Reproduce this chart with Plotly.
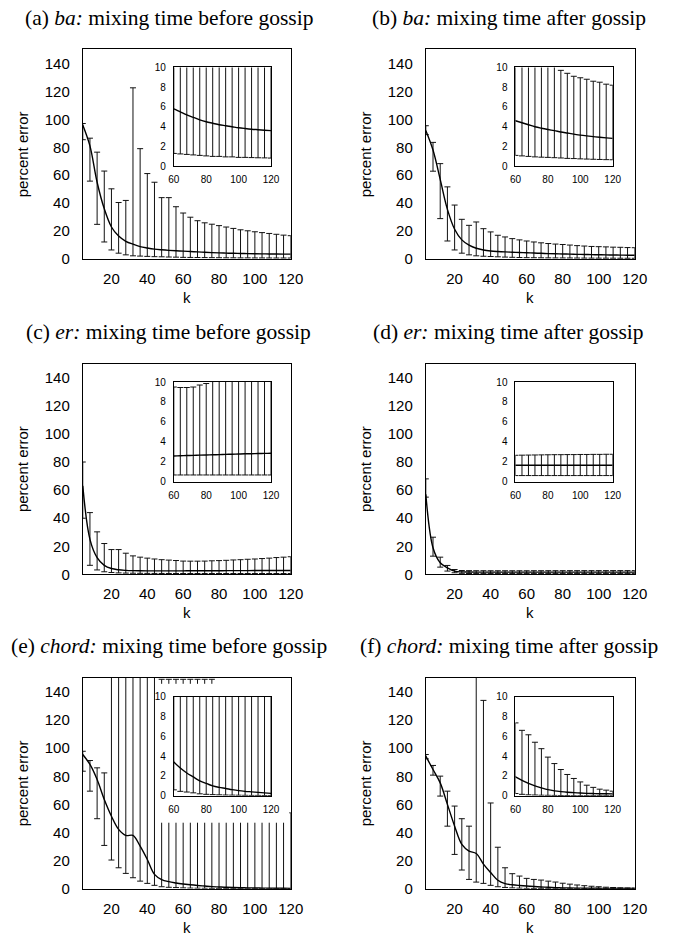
import plotly.graph_objects as go

# ---------------- data ----------------
k = [4, 8, 12, 16, 20, 24, 28, 32, 36, 40, 44, 48, 52, 56, 60,
     64, 68, 72, 76, 80, 84, 88, 92, 96, 100, 104, 108, 112, 116, 120]

x_ticks_main = [20, 40, 60, 80, 100, 120]
y_ticks_main = [0, 20, 40, 60, 80, 100, 120, 140]
x_ticks_inset = [60, 80, 100, 120]
y_ticks_inset = [0, 2, 4, 6, 8, 10]

titles = [
    "(a) <i>ba:</i> mixing time before gossip",
    "(b) <i>ba:</i> mixing time after gossip",
    "(c) <i>er:</i> mixing time before gossip",
    "(d) <i>er:</i> mixing time after gossip",
    "(e) <i>chord:</i> mixing time before gossip",
    "(f) <i>chord:</i> mixing time after gossip",
]

# (a) ba, before gossip
mean_a = [96, 81, 55, 36, 23, 16.5, 12.8, 10.7, 9.0, 8.0, 7.2, 6.7, 6.3, 6.0, 5.8,
          5.5, 5.2, 4.95, 4.7, 4.5, 4.35, 4.2, 4.1, 4.0, 3.9, 3.82, 3.75, 3.7, 3.65, 3.6]
upper_a = [97, 86.5, 76.5, 63, 50.3, 40.5, 42, 122.5, 79, 61.2, 55, 44, 44, 37.5, 33,
           30, 27.5, 26, 25, 24, 23, 22, 21, 20.3, 19.6, 19, 18.4, 17.8, 17.2, 16.8]
lower_a = [85.4, 55.8, 24.9, 12.3, 6.6, 4.3, 3.1, 2.4, 2.2, 2.0, 1.8, 1.7, 1.55, 1.45, 1.3,
           1.25, 1.2, 1.15, 1.1, 1.05, 1.0, 1.0, 0.95, 0.95, 0.9, 0.9, 0.88, 0.86, 0.85, 0.83]

# (b) ba, after gossip
mean_b = [92, 78, 57, 35.6, 21.4, 13.8, 10, 7.8, 6.6, 5.9, 5.5, 5.2, 5.0, 4.8, 4.6,
          4.4, 4.2, 4.0, 3.85, 3.72, 3.6, 3.47, 3.36, 3.25, 3.15, 3.07, 3.0, 2.93, 2.87, 2.82]
upper_b = [95.4, 83.5, 68.3, 51.7, 38.7, 28.5, 24.2, 26.6, 21.8, 19.5, 17.1, 15.9, 14.7, 13.8, 13.0,
           12.3, 11.7, 11.2, 10.8, 10.5, 10.1, 9.7, 9.4, 9.1, 8.95, 8.8, 8.6, 8.5, 8.3, 8.2]
lower_b = [89, 62.9, 29, 13, 6.6, 4.3, 3.1, 2.4, 2.1, 1.9, 1.7, 1.5, 1.35, 1.2, 1.1,
           1.05, 1.0, 0.95, 0.92, 0.9, 0.87, 0.84, 0.8, 0.78, 0.75, 0.73, 0.71, 0.69, 0.67, 0.66]

# (c) er, before gossip
mean_c = [63, 25, 12, 6.5, 4.2, 3.3, 2.9, 2.7, 2.6, 2.55, 2.55, 2.55, 2.55, 2.55, 2.57,
          2.59, 2.61, 2.63, 2.65, 2.67, 2.69, 2.71, 2.73, 2.75, 2.77, 2.79, 2.8, 2.82, 2.83, 2.85]
upper_c = [80, 44, 30.3, 22, 17.7, 17.7, 15.1, 13.2, 12.3, 11.6, 11.0, 10.5, 10.2, 9.9, 9.5,
           9.45, 9.45, 9.5, 9.7, 9.85, 10.05, 10.3, 10.5, 10.8, 11.0, 11.3, 11.6, 12.0, 12.3, 12.6]
lower_c = [40, 6.5, 3.2, 1.9, 1.4, 1.1, 0.95, 0.85, 0.8, 0.75, 0.72, 0.7, 0.68, 0.67, 0.66,
           0.66, 0.66, 0.66, 0.66, 0.66, 0.66, 0.66, 0.66, 0.66, 0.66, 0.66, 0.66, 0.66, 0.66, 0.66]

# (d) er, after gossip
mean_d = [57, 19, 8.3, 4.7, 2.4, 1.8, 1.7, 1.65, 1.65, 1.65, 1.64, 1.64, 1.64, 1.64, 1.64,
          1.64, 1.64, 1.64, 1.64, 1.64, 1.64, 1.64, 1.64, 1.64, 1.64, 1.64, 1.64, 1.64, 1.64, 1.64]
upper_d = [68, 26.5, 12.3, 6.4, 3.5, 2.8, 2.7, 2.65, 2.65, 2.64, 2.64, 2.64, 2.64, 2.64, 2.64,
           2.65, 2.66, 2.67, 2.68, 2.69, 2.7, 2.7, 2.71, 2.71, 2.72, 2.72, 2.73, 2.73, 2.74, 2.74]
lower_d = [55, 13, 5.2, 2.4, 1.2, 0.8, 0.65, 0.6, 0.6, 0.6, 0.6, 0.6, 0.6, 0.6, 0.6,
           0.6, 0.6, 0.6, 0.6, 0.6, 0.6, 0.6, 0.6, 0.6, 0.6, 0.6, 0.6, 0.6, 0.6, 0.6]

# (e) chord, before gossip
mean_e = [95.5, 88.4, 77.7, 63.5, 51.6, 42.2, 37.9, 37.9, 30.3, 20.8, 10.2, 6.5, 5.0, 4.1, 3.4,
          2.8, 2.3, 1.9, 1.5, 1.25, 1.0, 0.85, 0.74, 0.62, 0.52, 0.45, 0.4, 0.35, 0.3, 0.25]
upper_e = [97.8, 91.2, 86, 82.4, 300, 300, 300, 300, 300, 300, 300, 149, 149, 149, 149,
           149, 149, 149, 149, 130, 118, 106, 96, 87, 79, 72, 66, 61, 57, 54]
lower_e = [83.6, 69.4, 49.8, 30.8, 20.4, 14.9, 10.9, 7.8, 5.4, 3.8, 2.4, 1.4, 1.0, 0.8, 0.6,
           0.45, 0.38, 0.3, 0.2, 0.15, 0.12, 0.1, 0.08, 0.07, 0.06, 0.05, 0.04, 0.04, 0.03, 0.03]

# (f) chord, after gossip
mean_f = [94.3, 84.8, 75.3, 60, 44.5, 31.5, 26.8, 25.1, 17.5, 11.5, 6.0, 3.6, 2.8, 2.3, 1.9,
          1.55, 1.25, 1.0, 0.8, 0.62, 0.5, 0.42, 0.36, 0.32, 0.28, 0.25, 0.23, 0.21, 0.2, 0.19]
upper_f = [95.5, 87.7, 80.1, 69.4, 58.8, 49.8, 44.5, 300, 134, 61, 29.5, 14.9, 10.7, 9.0, 7.35,
           6.6, 6.15, 5.4, 4.75, 3.9, 3.25, 2.65, 2.15, 1.75, 1.4, 1.07, 0.85, 0.67, 0.57, 0.47]
lower_f = [92.4, 80.8, 65.9, 44.5, 24.4, 13.3, 6.6, 4.7, 3.8, 2.4, 1.4, 0.9, 0.6, 0.4, 0.23,
           0.15, 0.1, 0.08, 0.06, 0.05, 0.04, 0.03, 0.03, 0.02, 0.02, 0.02, 0.02, 0.02, 0.02, 0.02]

series = [(mean_a, upper_a, lower_a), (mean_b, upper_b, lower_b),
          (mean_c, upper_c, lower_c), (mean_d, upper_d, lower_d),
          (mean_e, upper_e, lower_e), (mean_f, upper_f, lower_f)]

# ---------------- layout geometry (pixels) ----------------
W, H = 673, 944
col_x = [(79, 293), (432, 647)]
row_y = [(44, 257), (363, 577), (682, 896)]
inset_x = [(172.7, 272.7), (524.3, 624.3)]
inset_y = [(62.3, 162.7), (381.7, 482.7), (701, 801.7)]
occluder_px = ((155, 291.5), (688, 829))   # white chart area of inset (e)
title_cx = [167.5, 517.5]


def dx(a, b):
    return [a / W, b / W]


def dy(top, bottom):
    return [1 - bottom / H, 1 - top / H]


TICK_FONT = dict(family="Liberation Sans, Arial, sans-serif", size=15, color="black")
INSET_FONT = dict(family="Liberation Sans, Arial, sans-serif", size=10, color="black")
TITLE_FONT = dict(family="Liberation Serif, Times New Roman, serif", size=21.5, color="black")

fig = go.Figure()
layout = dict(
    width=W, height=H, margin=dict(l=0, r=0, t=0, b=0),
    paper_bgcolor="white", plot_bgcolor="white", showlegend=False,
)
annotations = []


def trace(mean, upper, lower, xa, ya, cap):
    plus = [u - m for u, m in zip(upper, mean)]
    minus = [m - l for m, l in zip(mean, lower)]
    return go.Scatter(
        x=k, y=mean, mode="lines", xaxis=xa, yaxis=ya,
        line=dict(color="black", width=1.4, shape="spline", smoothing=1.0),
        error_y=dict(type="data", symmetric=False, array=plus, arrayminus=minus,
                     color="#111111", thickness=1, width=cap),
        hoverinfo="skip",
    )


def axis_common():
    return dict(showgrid=False, zeroline=False, showline=True, mirror=True,
                linecolor="black", linewidth=1, ticks="")


# main panels: axes 1..6
for p in range(6):
    r, c = divmod(p, 2)
    n = p + 1
    xs = "" if n == 1 else str(n)
    x0, x1 = col_x[c]
    y0, y1 = row_y[r]
    layout["xaxis" + xs] = dict(axis_common(), domain=dx(x0, x1), anchor="y" + xs,
                               range=[4, 120], tickvals=x_ticks_main, tickfont=TICK_FONT,
                               ticklabelstandoff=6)
    layout["yaxis" + xs] = dict(axis_common(), domain=dy(y0, y1), anchor="x" + xs,
                               range=[0, 150], tickvals=y_ticks_main, tickfont=TICK_FONT,
                               ticklabelstandoff=9)
    m, u, l = series[p]
    fig.add_trace(trace(m, u, l, "x" + xs, "y" + xs, 3))

    annotations.append(dict(text=titles[p], x=title_cx[c] / W, y=1 - (y0 - 32) / H,
                            xref="paper", yref="paper", showarrow=False, font=TITLE_FONT,
                            xanchor="center", yanchor="middle"))
    annotations.append(dict(text="k", x=(x0 + x1) / 2 / W, y=1 - (y1 + 39) / H,
                            xref="paper", yref="paper", showarrow=False, font=TICK_FONT,
                            xanchor="center", yanchor="middle"))
    annotations.append(dict(text="percent error", x=(x0 - 62.5) / W, y=1 - (y0 + y1) / 2 / H,
                            xref="paper", yref="paper", showarrow=False, font=TICK_FONT,
                            textangle=-90, xanchor="center", yanchor="middle"))

# occluder for panel (e): axis 7
layout["xaxis7"] = dict(visible=False, domain=dx(*occluder_px[0]), anchor="y7", range=[0, 1])
layout["yaxis7"] = dict(visible=False, domain=dy(*occluder_px[1]), anchor="x7", range=[0, 1])
fig.add_trace(go.Scatter(x=[], y=[], xaxis="x7", yaxis="y7", mode="lines", hoverinfo="skip"))

# insets: axes 8..13
for p in range(6):
    r, c = divmod(p, 2)
    xs = str(p + 8)
    x0, x1 = inset_x[c]
    y0, y1 = inset_y[r]
    layout["xaxis" + xs] = dict(axis_common(), domain=dx(x0, x1), anchor="y" + xs,
                               range=[60, 120], tickvals=x_ticks_inset, tickfont=INSET_FONT,
                               ticklabelstandoff=4)
    layout["yaxis" + xs] = dict(axis_common(), domain=dy(y0, y1), anchor="x" + xs,
                               range=[0, 10], tickvals=y_ticks_inset, tickfont=INSET_FONT,
                               ticklabelstandoff=5)
    m, u, l = series[p]
    fig.add_trace(trace(m, u, l, "x" + xs, "y" + xs, 3))

layout["annotations"] = annotations
fig.update_layout(**layout)
fig.write_html("out.html",
               config={"displayModeBar": False, "staticPlot": True},
               post_script="document.body.style.margin='0px';document.body.style.overflow='hidden';")
